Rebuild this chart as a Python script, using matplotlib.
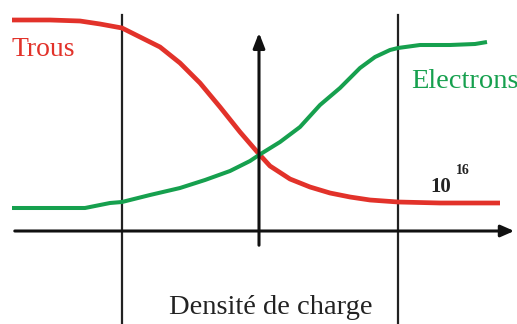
import matplotlib
matplotlib.use("Agg")
import matplotlib.pyplot as plt

# Curve data in image pixel coordinates (x right, y down)
trous_x = [12, 50, 80, 100, 122, 140, 160, 180, 200, 220, 240, 259, 270, 290, 310, 330, 350, 370, 398, 440, 500]
trous_y = [20, 20, 21, 24, 28, 37, 47, 63, 83, 107, 132, 154, 166, 179, 187, 193, 197, 200, 202, 203, 203]
elec_x = [12, 60, 85, 110, 122, 150, 180, 205, 230, 250, 259, 280, 300, 320, 340, 360, 375, 390, 398, 420, 450, 475, 487]
elec_y = [208, 208, 208, 203, 202, 195, 188, 180, 171, 161, 155, 142, 127, 105, 88, 68, 57, 50, 48, 45, 45, 44, 42]

labels = {"trous": "Trous", "elec": "Electrons", "dens": "Densité de charge"}

W, H = 517, 324
fig = plt.figure(figsize=(W / 100, H / 100), dpi=100)
ax = fig.add_axes([0, 0, 1, 1])
ax.set_xlim(0, W)
ax.set_ylim(H, 0)
ax.axis("off")

red = "#e2322a"
green = "#16a04e"
serif = ["Liberation Serif", "DejaVu Serif"]

# vertical lines
ax.plot([122, 122], [15, H], color="#222222", lw=1.6)
ax.plot([398, 398], [15, H], color="#222222", lw=1.6)
# horizontal axis with arrow
ax.annotate("", xy=(517, 231), xytext=(12, 231),
            arrowprops=dict(arrowstyle="-|>,head_length=0.8,head_width=0.35", color="#111111", lw=2.2))
# vertical arrow
ax.annotate("", xy=(259, 30), xytext=(259, 248),
            arrowprops=dict(arrowstyle="-|>,head_length=0.9,head_width=0.35", color="#111111", lw=2.2))

ax.plot(trous_x, trous_y, color=red, lw=3.4, solid_capstyle="butt", solid_joinstyle="round")
ax.plot(elec_x, elec_y, color=green, lw=2.9, solid_capstyle="butt", solid_joinstyle="round")

ax.text(12, 50, labels["trous"], color=red, fontsize=20, family=serif, va="center", ha="left")
ax.text(411, 82, labels["elec"], color=green, fontsize=20.5, family=serif, va="center", ha="left", clip_on=False)
ax.text(271, 307, labels["dens"], color="#222222", fontsize=20.5, family=serif, va="center", ha="center")
ax.text(430, 187, "10", color="#222222", fontsize=15, family=serif, va="center", ha="left", fontweight="bold")
ax.text(456, 170, "16", color="#222222", fontsize=10, family=serif, va="center", ha="left", fontweight="bold")

fig.savefig("out.png", dpi=100)
